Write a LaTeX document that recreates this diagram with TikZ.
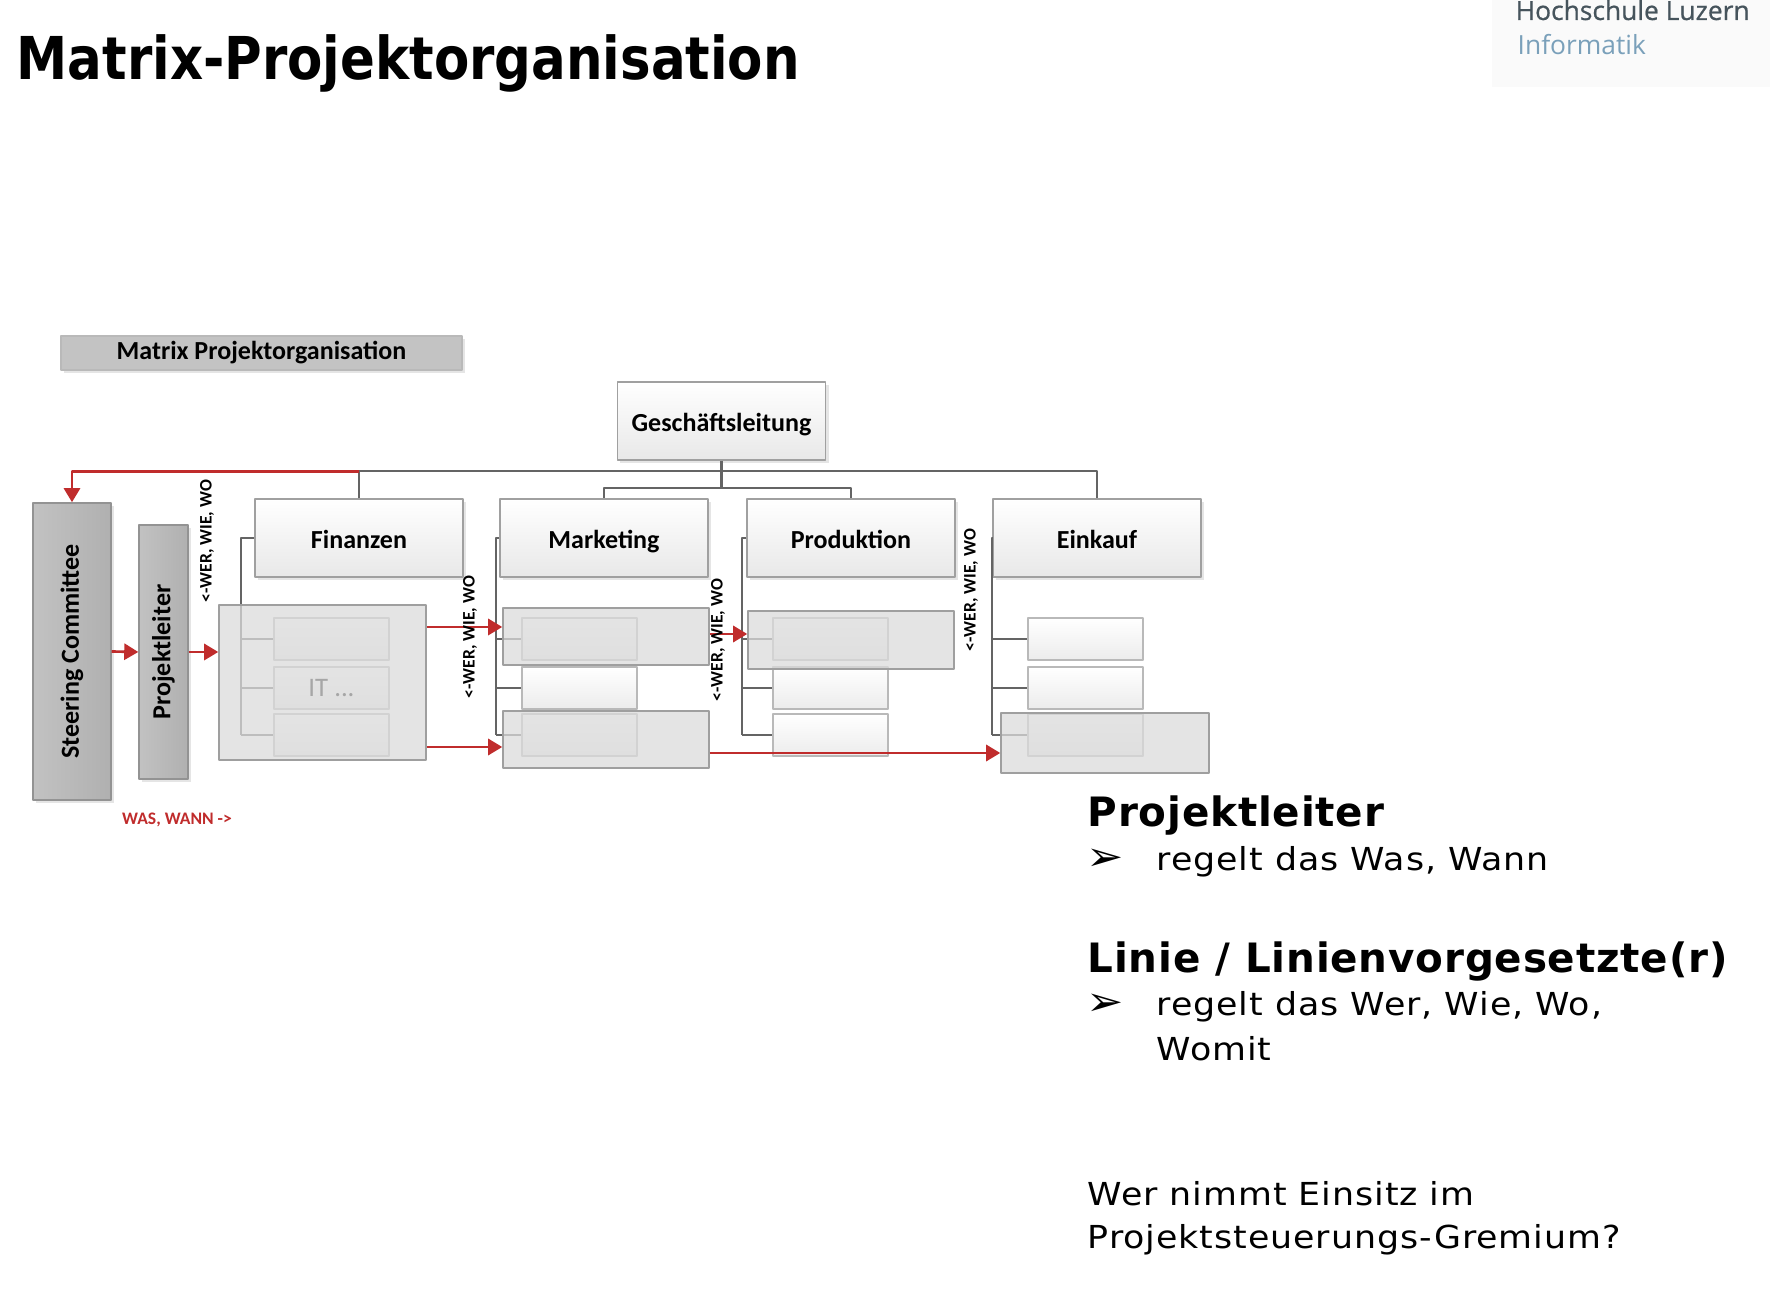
\documentclass[tikz,border=0pt]{standalone}
\usepackage{fontspec}
\usepackage{graphicx}
\setmainfont{DejaVu Sans}
\newfontfamily\calfont{Carlito}
\newfontfamily\titelfont{DejaVu Sans}[FakeStretch=0.87]
\newfontfamily\fliessfont{DejaVu Sans}[FakeStretch=1.1,LetterSpace=3]
\newfontfamily\kopffont{DejaVu Sans}[LetterSpace=2]
\newfontfamily\logofont{Open Sans}
\newfontfamily\logofett{Open Sans}[FakeBold=0.7]
\usetikzlibrary{arrows.meta,shadows,positioning}
\definecolor{rot}{RGB}{192,44,44}
\definecolor{linie}{RGB}{100,100,100}
\definecolor{rand}{RGB}{160,160,160}
\definecolor{hsblau}{RGB}{122,160,186}
\definecolor{hsgrau}{RGB}{70,84,92}
\begin{document}
\begin{tikzpicture}[x=0.01cm,y=-0.01cm,line join=round,
	>={Triangle[length=4pt,width=4.6pt]},
	schatten/.style={drop shadow={shadow xshift=0.03cm,shadow yshift=-0.03cm,opacity=0.2}},
	abt/.style={draw=rand,top color=white,bottom color=gray!18,inner sep=0pt,schatten,
		text height=1.6ex,text depth=0.5ex,
		minimum width=2.08cm,minimum height=0.78cm,font=\calfont\bfseries\fontsize{7.4}{9}\selectfont},
	stab/.style={draw=gray!85,left color=gray!48,right color=gray!62,inner sep=0pt,schatten,
		font=\calfont\bfseries\fontsize{7.4}{9}\selectfont},
	balken/.style={draw=gray!55,fill=gray!47,inner sep=0pt,schatten,
		font=\calfont\bfseries\fontsize{7.4}{9}\selectfont},
	sub/.style={draw=gray!55,top color=white,bottom color=gray!15,inner sep=0pt,
		minimum width=1.15cm,minimum height=0.42cm},
	grp/.style={draw=gray!75,fill=gray!28,fill opacity=0.75,inner sep=0pt},
	linie/.style={draw=linie,line width=0.6pt},
	rotpfeil/.style={draw=rot,line width=0.75pt,->},
	wer/.style={font=\calfont\bfseries\fontsize{5}{6}\selectfont,rotate=90,inner sep=0pt},
	fliess/.style={anchor=base west,inner sep=0pt,font=\fliessfont\fontsize{9}{11}\selectfont},
	kopf/.style={anchor=base west,inner sep=0pt,font=\kopffont\bfseries\fontsize{11.5}{14}\selectfont}]
	\fill[white] (0,0) rectangle (1770,1292);
	\useasboundingbox (0,0) rectangle (1770,1292);
	% Kopfzeile
	\node[anchor=base west,inner sep=0pt,font=\titelfont\bfseries\fontsize{16.8}{20}\selectfont] (titel) at (16,80) {Matrix-Projektorganisation};
	\fill[gray!4] (1492,0) rectangle (1770,87);
	\node[anchor=base west,inner sep=0pt,text=hsgrau,font=\logofett\fontsize{7.5}{9}\selectfont] (hslu) at (1515,20) {Hochschule Luzern};
	\node[anchor=base west,inner sep=0pt,text=hsblau,font=\logofont\fontsize{7.5}{9}\selectfont] (info) at (1517,55) {Informatik};
	% Organigramm
	\node[balken,minimum width=4.01cm,minimum height=0.34cm] (kopfbalken) at (261.5,353) {Matrix Projektorganisation};
	\node[abt] (gl) at (721.5,421) {Geschäftsleitung};
	\foreach \n/\t/\x in {fin/Finanzen/359,mkt/Marketing/604,prod/Produktion/851,ein/Einkauf/1097}
	\node[abt] (\n) at (\x,538) {\t};
	\node[stab,minimum width=0.78cm,minimum height=2.97cm] (sc) at (72,651.5) {\rotatebox{90}{Steering Committee}};
	\node[stab,minimum width=0.49cm,minimum height=2.54cm] (pl) at (163.5,652) {\rotatebox{90}{Projektleiter}};
	\draw[linie] (fin.north) -- ++(0,-27) -| (ein.north);
	\draw[linie] (gl.south) -- ++(0,27) -| (mkt.north);
	\draw[linie] (gl.south) ++(0,27) -| (prod.north);
	\draw[rotpfeil] (fin.north) ++(0,-27) -| (sc.north);
	% Linien zu den Stellen
	\foreach \n/\bx/\sx in {fin/241/331.5,mkt/496/579.5,prod/742/830.5,ein/992/1085.5}{
		\draw[linie] (\n.west) -| (\bx,735);
		\foreach \i/\y in {1/639,2/688,3/735}{
			\node[sub] (\n-\i) at (\sx,\y) {};
			\draw[linie] (\bx,\y) -- (\n-\i.west);
		}
	}
	% Projektteams
	\node[grp,minimum width=2.07cm,minimum height=1.55cm] (fingrp) at (322.5,682.5) {};
	\node[grp,minimum width=2.06cm,minimum height=0.57cm] (mktgrp1) at (606,636.5) {};
	\node[grp,minimum width=2.06cm,minimum height=0.57cm] (mktgrp2) at (606,739.5) {};
	\node[grp,minimum width=2.06cm,minimum height=0.58cm] (prodgrp) at (851,640) {};
	\node[grp,minimum width=2.08cm,minimum height=0.60cm] (eingrp) at (1105,743) {};
	\node[font=\calfont\fontsize{7.6}{9}\selectfont,text=gray!70,inner sep=0pt] (it) at (fin-2) {IT ...};
	\path (0,627) coordinate (h1) (0,747) coordinate (h2) (0,634) coordinate (h3) (0,753) coordinate (h4);
	\draw[rotpfeil] (sc.east) -- (pl.west);
	\draw[rotpfeil] (pl.east) -- (pl.east -| fingrp.west);
	\draw[rotpfeil] (fingrp.east |- h1) -- (mktgrp1.west |- h1);
	\draw[rotpfeil] (fingrp.east |- h2) -- (mktgrp2.west |- h2);
	\draw[rotpfeil] (mktgrp1.east |- h3) -- (prodgrp.west |- h3);
	\draw[rotpfeil] (mktgrp2.east |- h4) -- (eingrp.west |- h4);
	\foreach \x/\y [count=\k] in {207/541,470/637,718/640,971/590}
	\node[wer] (wer\k) at (\x,\y) {<-WER, WIE, WO};
	\node[font=\calfont\bfseries\fontsize{5}{6}\selectfont,text=rot,inner sep=0pt] (was) at (177,820) {WAS, WANN ->};
	% Erklaerungen
	\node[kopf] (k1) at (1087,827) {Projektleiter};
	\node[fliess,font=\fliessfont\fontsize{11.5}{12}\selectfont] (b1) at (1086,870) {➢};
	\node[fliess] (t1) at (1156,870) {regelt das Was, Wann};
	\node[kopf] (k2) at (1087,972) {Linie / Linienvorgesetzte(r)};
	\node[fliess,font=\fliessfont\fontsize{11.5}{12}\selectfont] (b2) at (1086,1015) {➢};
	\node[fliess] (t2) at (1156,1015) {regelt das Wer, Wie, Wo,};
	\node[fliess] (t3) at (1156,1060) {Womit};
	\node[fliess] (f1) at (1087,1205) {Wer nimmt Einsitz im};
	\node[fliess] (f2) at (1087,1248) {Projektsteuerungs-Gremium?};
\end{tikzpicture}
\end{document}
